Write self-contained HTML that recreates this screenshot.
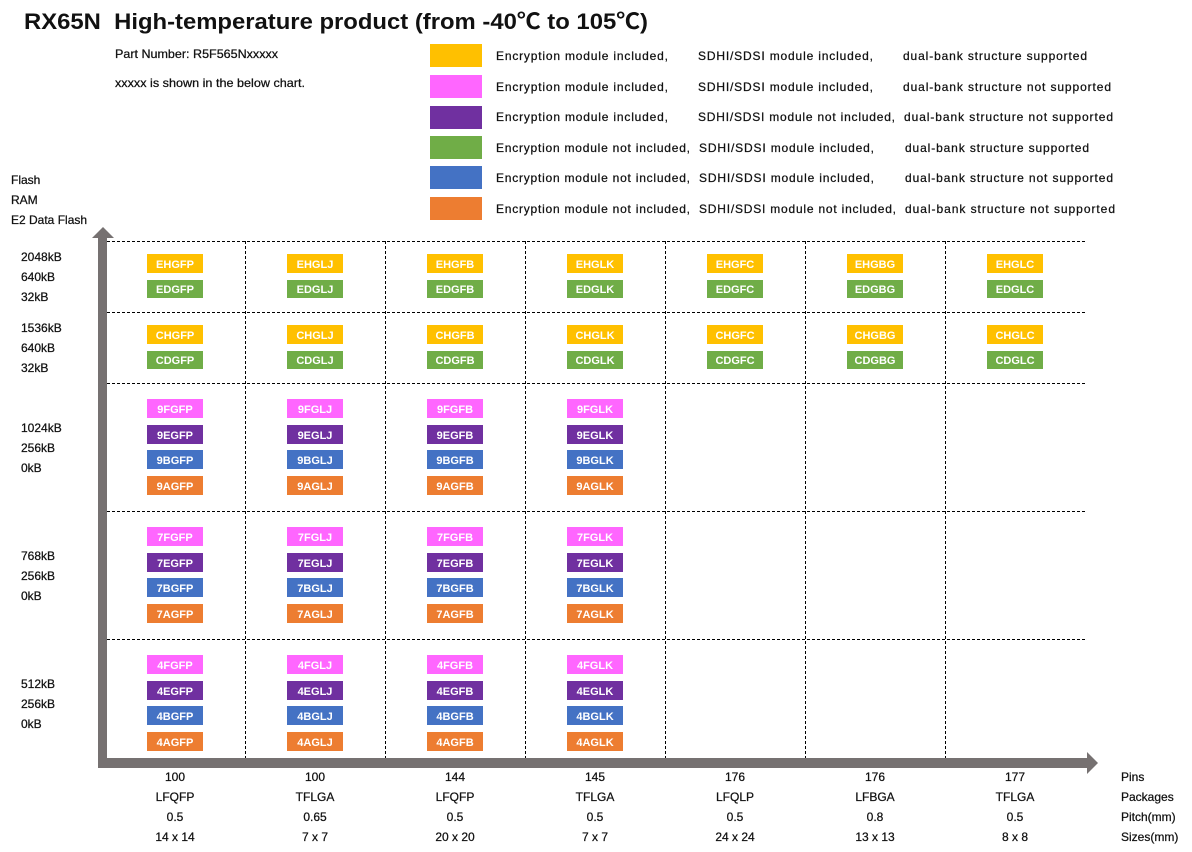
<!DOCTYPE html>
<html><head><meta charset="utf-8"><style>
html,body{margin:0;padding:0;background:#fff;}
svg{display:block;}
text{font-family:"Liberation Sans","Noto Sans CJK JP",sans-serif;fill:#111;}
.t{font-size:12px;stroke:#111;stroke-width:0.25;}
.c{font-size:11px;font-weight:bold;fill:#fff;text-anchor:middle;}
.m{text-anchor:middle;}
</style></head><body>
<svg width="1192" height="852" viewBox="0 0 1192 852" xmlns="http://www.w3.org/2000/svg">
<rect width="1192" height="852" fill="#fff"/>
<text x="24" y="29" font-size="22" font-weight="bold" textLength="624" lengthAdjust="spacingAndGlyphs">RX65N&#160; High-temperature product (from -40℃ to 105℃)</text>
<text class="t" x="115" y="58" font-size="11.5" textLength="163" lengthAdjust="spacingAndGlyphs">Part Number: R5F565Nxxxxx</text>
<text class="t" x="115" y="87" font-size="11.5" textLength="190" lengthAdjust="spacingAndGlyphs">xxxxx is shown in the below chart.</text>

<!-- legend -->
<rect x="430" y="44" width="52" height="23" fill="#FFC000"/>
<rect x="430" y="75" width="52" height="23" fill="#FF66FF"/>
<rect x="430" y="106" width="52" height="23" fill="#7030A0"/>
<rect x="430" y="136" width="52" height="23" fill="#70AD47"/>
<rect x="430" y="166" width="52" height="23" fill="#4472C4"/>
<rect x="430" y="197" width="52" height="23" fill="#ED7D31"/>
<g>
<text class="t" x="496" y="60" textLength="172">Encryption module included,</text>
<text class="t" x="698" y="60" textLength="175">SDHI/SDSI module included,</text>
<text class="t" x="903" y="60" textLength="184">dual-bank structure supported</text>
<text class="t" x="496" y="91" textLength="172">Encryption module included,</text>
<text class="t" x="698" y="91" textLength="175">SDHI/SDSI module included,</text>
<text class="t" x="903" y="91" textLength="208">dual-bank structure not supported</text>
<text class="t" x="496" y="121" textLength="172">Encryption module included,</text>
<text class="t" x="698" y="121" textLength="197">SDHI/SDSI module not included,</text>
<text class="t" x="904" y="121" textLength="209">dual-bank structure not supported</text>
<text class="t" x="496" y="152" textLength="194">Encryption module not included,</text>
<text class="t" x="699" y="152" textLength="175">SDHI/SDSI module included,</text>
<text class="t" x="905" y="152" textLength="184">dual-bank structure supported</text>
<text class="t" x="496" y="182" textLength="194">Encryption module not included,</text>
<text class="t" x="699" y="182" textLength="175">SDHI/SDSI module included,</text>
<text class="t" x="905" y="182" textLength="208">dual-bank structure not supported</text>
<text class="t" x="496" y="213" textLength="194">Encryption module not included,</text>
<text class="t" x="699" y="213" textLength="197">SDHI/SDSI module not included,</text>
<text class="t" x="905" y="213" textLength="210">dual-bank structure not supported</text>
</g>

<!-- y-axis titles -->
<text class="t" x="11" y="184">Flash</text>
<text class="t" x="11" y="204">RAM</text>
<text class="t" x="11" y="224">E2 Data Flash</text>

<text class="t" x="21" y="261">2048kB</text>
<text class="t" x="21" y="281">640kB</text>
<text class="t" x="21" y="301">32kB</text>
<text class="t" x="21" y="332">1536kB</text>
<text class="t" x="21" y="352">640kB</text>
<text class="t" x="21" y="372">32kB</text>
<text class="t" x="21" y="432">1024kB</text>
<text class="t" x="21" y="452">256kB</text>
<text class="t" x="21" y="472">0kB</text>
<text class="t" x="21" y="560">768kB</text>
<text class="t" x="21" y="580">256kB</text>
<text class="t" x="21" y="600">0kB</text>
<text class="t" x="21" y="688">512kB</text>
<text class="t" x="21" y="708">256kB</text>
<text class="t" x="21" y="728">0kB</text>

<!-- grid -->
<g stroke="#000" stroke-width="1" stroke-dasharray="3,2" fill="none">
<line x1="107" y1="241.5" x2="1085" y2="241.5"/>
<line x1="107" y1="312.5" x2="1085" y2="312.5"/>
<line x1="107" y1="383.5" x2="1085" y2="383.5"/>
<line x1="107" y1="511.5" x2="1085" y2="511.5"/>
<line x1="107" y1="639.5" x2="1085" y2="639.5"/>
<line x1="245.5" y1="241" x2="245.5" y2="758"/>
<line x1="385.5" y1="241" x2="385.5" y2="758"/>
<line x1="525.5" y1="241" x2="525.5" y2="758"/>
<line x1="665.5" y1="241" x2="665.5" y2="758"/>
<line x1="805.5" y1="241" x2="805.5" y2="758"/>
<line x1="945.5" y1="241" x2="945.5" y2="758"/>
</g>

<!-- axes -->
<g fill="#767171">
<rect x="98" y="237" width="9" height="531"/>
<polygon points="92,238 103,227 114,238"/>
<rect x="98" y="758" width="990" height="10"/>
<polygon points="1087,752 1098,763 1087,774"/>
</g>

<!-- chips rows 1-2 -->
<g>
<rect x="147" y="254" width="56" height="19" fill="#FFC000"/><text class="c" x="175" y="268">EHGFP</text>
<rect x="287" y="254" width="56" height="19" fill="#FFC000"/><text class="c" x="315" y="268">EHGLJ</text>
<rect x="427" y="254" width="56" height="19" fill="#FFC000"/><text class="c" x="455" y="268">EHGFB</text>
<rect x="567" y="254" width="56" height="19" fill="#FFC000"/><text class="c" x="595" y="268">EHGLK</text>
<rect x="707" y="254" width="56" height="19" fill="#FFC000"/><text class="c" x="735" y="268">EHGFC</text>
<rect x="847" y="254" width="56" height="19" fill="#FFC000"/><text class="c" x="875" y="268">EHGBG</text>
<rect x="987" y="254" width="56" height="19" fill="#FFC000"/><text class="c" x="1015" y="268">EHGLC</text>

<rect x="147" y="280" width="56" height="18" fill="#70AD47"/><text class="c" x="175" y="293">EDGFP</text>
<rect x="287" y="280" width="56" height="18" fill="#70AD47"/><text class="c" x="315" y="293">EDGLJ</text>
<rect x="427" y="280" width="56" height="18" fill="#70AD47"/><text class="c" x="455" y="293">EDGFB</text>
<rect x="567" y="280" width="56" height="18" fill="#70AD47"/><text class="c" x="595" y="293">EDGLK</text>
<rect x="707" y="280" width="56" height="18" fill="#70AD47"/><text class="c" x="735" y="293">EDGFC</text>
<rect x="847" y="280" width="56" height="18" fill="#70AD47"/><text class="c" x="875" y="293">EDGBG</text>
<rect x="987" y="280" width="56" height="18" fill="#70AD47"/><text class="c" x="1015" y="293">EDGLC</text>

<rect x="147" y="325" width="56" height="19" fill="#FFC000"/><text class="c" x="175" y="339">CHGFP</text>
<rect x="287" y="325" width="56" height="19" fill="#FFC000"/><text class="c" x="315" y="339">CHGLJ</text>
<rect x="427" y="325" width="56" height="19" fill="#FFC000"/><text class="c" x="455" y="339">CHGFB</text>
<rect x="567" y="325" width="56" height="19" fill="#FFC000"/><text class="c" x="595" y="339">CHGLK</text>
<rect x="707" y="325" width="56" height="19" fill="#FFC000"/><text class="c" x="735" y="339">CHGFC</text>
<rect x="847" y="325" width="56" height="19" fill="#FFC000"/><text class="c" x="875" y="339">CHGBG</text>
<rect x="987" y="325" width="56" height="19" fill="#FFC000"/><text class="c" x="1015" y="339">CHGLC</text>

<rect x="147" y="351" width="56" height="18" fill="#70AD47"/><text class="c" x="175" y="364">CDGFP</text>
<rect x="287" y="351" width="56" height="18" fill="#70AD47"/><text class="c" x="315" y="364">CDGLJ</text>
<rect x="427" y="351" width="56" height="18" fill="#70AD47"/><text class="c" x="455" y="364">CDGFB</text>
<rect x="567" y="351" width="56" height="18" fill="#70AD47"/><text class="c" x="595" y="364">CDGLK</text>
<rect x="707" y="351" width="56" height="18" fill="#70AD47"/><text class="c" x="735" y="364">CDGFC</text>
<rect x="847" y="351" width="56" height="18" fill="#70AD47"/><text class="c" x="875" y="364">CDGBG</text>
<rect x="987" y="351" width="56" height="18" fill="#70AD47"/><text class="c" x="1015" y="364">CDGLC</text>
</g>

<!-- chips rows 3-5 -->
<g>
<rect x="147" y="399" width="56" height="19" fill="#FF66FF"/><text class="c" x="175" y="413">9FGFP</text>
<rect x="287" y="399" width="56" height="19" fill="#FF66FF"/><text class="c" x="315" y="413">9FGLJ</text>
<rect x="427" y="399" width="56" height="19" fill="#FF66FF"/><text class="c" x="455" y="413">9FGFB</text>
<rect x="567" y="399" width="56" height="19" fill="#FF66FF"/><text class="c" x="595" y="413">9FGLK</text>
<rect x="147" y="425" width="56" height="19" fill="#7030A0"/><text class="c" x="175" y="439">9EGFP</text>
<rect x="287" y="425" width="56" height="19" fill="#7030A0"/><text class="c" x="315" y="439">9EGLJ</text>
<rect x="427" y="425" width="56" height="19" fill="#7030A0"/><text class="c" x="455" y="439">9EGFB</text>
<rect x="567" y="425" width="56" height="19" fill="#7030A0"/><text class="c" x="595" y="439">9EGLK</text>
<rect x="147" y="450" width="56" height="19" fill="#4472C4"/><text class="c" x="175" y="464">9BGFP</text>
<rect x="287" y="450" width="56" height="19" fill="#4472C4"/><text class="c" x="315" y="464">9BGLJ</text>
<rect x="427" y="450" width="56" height="19" fill="#4472C4"/><text class="c" x="455" y="464">9BGFB</text>
<rect x="567" y="450" width="56" height="19" fill="#4472C4"/><text class="c" x="595" y="464">9BGLK</text>
<rect x="147" y="476" width="56" height="19" fill="#ED7D31"/><text class="c" x="175" y="490">9AGFP</text>
<rect x="287" y="476" width="56" height="19" fill="#ED7D31"/><text class="c" x="315" y="490">9AGLJ</text>
<rect x="427" y="476" width="56" height="19" fill="#ED7D31"/><text class="c" x="455" y="490">9AGFB</text>
<rect x="567" y="476" width="56" height="19" fill="#ED7D31"/><text class="c" x="595" y="490">9AGLK</text>

<rect x="147" y="527" width="56" height="19" fill="#FF66FF"/><text class="c" x="175" y="541">7FGFP</text>
<rect x="287" y="527" width="56" height="19" fill="#FF66FF"/><text class="c" x="315" y="541">7FGLJ</text>
<rect x="427" y="527" width="56" height="19" fill="#FF66FF"/><text class="c" x="455" y="541">7FGFB</text>
<rect x="567" y="527" width="56" height="19" fill="#FF66FF"/><text class="c" x="595" y="541">7FGLK</text>
<rect x="147" y="553" width="56" height="19" fill="#7030A0"/><text class="c" x="175" y="567">7EGFP</text>
<rect x="287" y="553" width="56" height="19" fill="#7030A0"/><text class="c" x="315" y="567">7EGLJ</text>
<rect x="427" y="553" width="56" height="19" fill="#7030A0"/><text class="c" x="455" y="567">7EGFB</text>
<rect x="567" y="553" width="56" height="19" fill="#7030A0"/><text class="c" x="595" y="567">7EGLK</text>
<rect x="147" y="578" width="56" height="19" fill="#4472C4"/><text class="c" x="175" y="592">7BGFP</text>
<rect x="287" y="578" width="56" height="19" fill="#4472C4"/><text class="c" x="315" y="592">7BGLJ</text>
<rect x="427" y="578" width="56" height="19" fill="#4472C4"/><text class="c" x="455" y="592">7BGFB</text>
<rect x="567" y="578" width="56" height="19" fill="#4472C4"/><text class="c" x="595" y="592">7BGLK</text>
<rect x="147" y="604" width="56" height="19" fill="#ED7D31"/><text class="c" x="175" y="618">7AGFP</text>
<rect x="287" y="604" width="56" height="19" fill="#ED7D31"/><text class="c" x="315" y="618">7AGLJ</text>
<rect x="427" y="604" width="56" height="19" fill="#ED7D31"/><text class="c" x="455" y="618">7AGFB</text>
<rect x="567" y="604" width="56" height="19" fill="#ED7D31"/><text class="c" x="595" y="618">7AGLK</text>

<rect x="147" y="655" width="56" height="19" fill="#FF66FF"/><text class="c" x="175" y="669">4FGFP</text>
<rect x="287" y="655" width="56" height="19" fill="#FF66FF"/><text class="c" x="315" y="669">4FGLJ</text>
<rect x="427" y="655" width="56" height="19" fill="#FF66FF"/><text class="c" x="455" y="669">4FGFB</text>
<rect x="567" y="655" width="56" height="19" fill="#FF66FF"/><text class="c" x="595" y="669">4FGLK</text>
<rect x="147" y="681" width="56" height="19" fill="#7030A0"/><text class="c" x="175" y="695">4EGFP</text>
<rect x="287" y="681" width="56" height="19" fill="#7030A0"/><text class="c" x="315" y="695">4EGLJ</text>
<rect x="427" y="681" width="56" height="19" fill="#7030A0"/><text class="c" x="455" y="695">4EGFB</text>
<rect x="567" y="681" width="56" height="19" fill="#7030A0"/><text class="c" x="595" y="695">4EGLK</text>
<rect x="147" y="706" width="56" height="19" fill="#4472C4"/><text class="c" x="175" y="720">4BGFP</text>
<rect x="287" y="706" width="56" height="19" fill="#4472C4"/><text class="c" x="315" y="720">4BGLJ</text>
<rect x="427" y="706" width="56" height="19" fill="#4472C4"/><text class="c" x="455" y="720">4BGFB</text>
<rect x="567" y="706" width="56" height="19" fill="#4472C4"/><text class="c" x="595" y="720">4BGLK</text>
<rect x="147" y="732" width="56" height="19" fill="#ED7D31"/><text class="c" x="175" y="746">4AGFP</text>
<rect x="287" y="732" width="56" height="19" fill="#ED7D31"/><text class="c" x="315" y="746">4AGLJ</text>
<rect x="427" y="732" width="56" height="19" fill="#ED7D31"/><text class="c" x="455" y="746">4AGFB</text>
<rect x="567" y="732" width="56" height="19" fill="#ED7D31"/><text class="c" x="595" y="746">4AGLK</text>
</g>

<!-- x-axis labels -->
<g>
<text class="t m" x="175" y="781">100</text>
<text class="t m" x="315" y="781">100</text>
<text class="t m" x="455" y="781">144</text>
<text class="t m" x="595" y="781">145</text>
<text class="t m" x="735" y="781">176</text>
<text class="t m" x="875" y="781">176</text>
<text class="t m" x="1015" y="781">177</text>
<text class="t m" x="175" y="801">LFQFP</text>
<text class="t m" x="315" y="801">TFLGA</text>
<text class="t m" x="455" y="801">LFQFP</text>
<text class="t m" x="595" y="801">TFLGA</text>
<text class="t m" x="735" y="801">LFQLP</text>
<text class="t m" x="875" y="801">LFBGA</text>
<text class="t m" x="1015" y="801">TFLGA</text>
<text class="t m" x="175" y="821">0.5</text>
<text class="t m" x="315" y="821">0.65</text>
<text class="t m" x="455" y="821">0.5</text>
<text class="t m" x="595" y="821">0.5</text>
<text class="t m" x="735" y="821">0.5</text>
<text class="t m" x="875" y="821">0.8</text>
<text class="t m" x="1015" y="821">0.5</text>
<text class="t m" x="175" y="841">14 x 14</text>
<text class="t m" x="315" y="841">7 x 7</text>
<text class="t m" x="455" y="841">20 x 20</text>
<text class="t m" x="595" y="841">7 x 7</text>
<text class="t m" x="735" y="841">24 x 24</text>
<text class="t m" x="875" y="841">13 x 13</text>
<text class="t m" x="1015" y="841">8 x 8</text>
<text class="t" x="1121" y="781">Pins</text>
<text class="t" x="1121" y="801">Packages</text>
<text class="t" x="1121" y="821">Pitch(mm)</text>
<text class="t" x="1121" y="841">Sizes(mm)</text>
</g>
</svg>
</body></html>
